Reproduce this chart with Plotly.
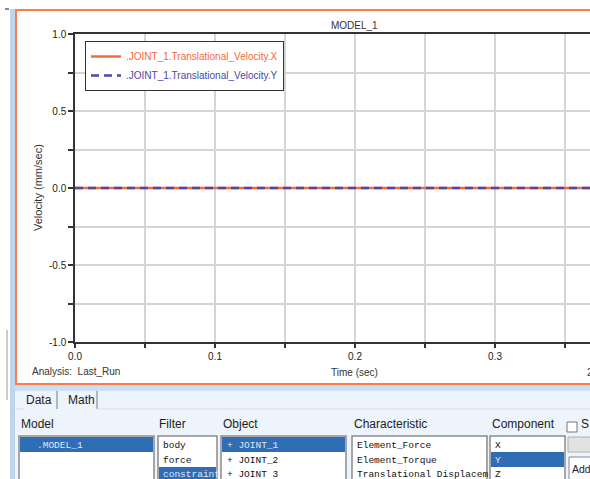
import plotly.graph_objects as go

# ---------------- data ----------------
time_s = [0.0, 0.05, 0.10, 0.15, 0.20, 0.25, 0.30, 0.35, 0.40]
vel_x = [0.0, 0.0, 0.0, 0.0, 0.0, 0.0, 0.0, 0.0, 0.0]
vel_y = [0.0, 0.0, 0.0, 0.0, 0.0, 0.0, 0.0, 0.0, 0.0]
series_names = [".JOINT_1.Translational_Velocity.X", ".JOINT_1.Translational_Velocity.Y"]
x_tickvals = [0.0, 0.05, 0.10, 0.15, 0.20, 0.25, 0.30, 0.35]
x_ticktext = ["0.0", "", "0.1", "", "0.2", "", "0.3", ""]
y_tickvals = [-1.0, -0.75, -0.5, -0.25, 0.0, 0.25, 0.5, 0.75, 1.0]
y_ticktext = ["-1.0", "", "-0.5", "", "0.0", "", "0.5", "", "1.0"]

W, H = 590, 479
def px(x): return x / W
def py(y): return 1 - y / H

ORANGE = "#f4683a"
BLUE = "#4a48a8"
SANS = "Liberation Sans, Arial, sans-serif"
MONO = "Liberation Mono, Courier New, monospace"

fig = go.Figure()
fig.add_trace(go.Scatter(x=time_s, y=vel_x, mode="lines",
                         name=f'<span style="color:{ORANGE}">{series_names[0]}</span>',
                         line=dict(color=ORANGE, width=2.5)))
fig.add_trace(go.Scatter(x=time_s, y=vel_y, mode="lines",
                         name=f'<span style="color:{BLUE}">{series_names[1]}</span>',
                         line=dict(color=BLUE, width=2.5, dash="8px,5px")))

shapes = []
annots = []

def rect(x0, y0, x1, y1, fill=None, line=None, lw=1):
    shapes.append(dict(type="rect", xref="paper", yref="paper",
                       x0=px(x0), x1=px(x1), y0=py(y1), y1=py(y0),
                       fillcolor=fill if fill else "rgba(0,0,0,0)",
                       line=dict(color=line if line else "rgba(0,0,0,0)", width=lw if line else 0),
                       layer="above"))

def hline(x0, x1, y, color, lw=1):
    shapes.append(dict(type="line", xref="paper", yref="paper",
                       x0=px(x0), x1=px(x1), y0=py(y), y1=py(y),
                       line=dict(color=color, width=lw)))

def vline(x, y0, y1, color, lw=1):
    shapes.append(dict(type="line", xref="paper", yref="paper",
                       x0=px(x), x1=px(x), y0=py(y0), y1=py(y1),
                       line=dict(color=color, width=lw)))

def text(x, y, s, size=12, color="#222", font=SANS, anchor="left", angle=0):
    annots.append(dict(xref="paper", yref="paper", x=px(x), y=py(y), text=s,
                       showarrow=False, xanchor=anchor, yanchor="middle",
                       textangle=angle, font=dict(family=font, size=size, color=color)))

# window chrome
rect(10, 9, 15, 479, fill="#bcd6ee")
rect(5, 8, 9, 10, fill="#888888")
vline(7, 330, 400, "#9a9a9a", 1)
rect(16, 10, 594, 384, line="#ff7b4c", lw=2)
rect(15, 385, 592, 391, fill="#cbdff2")
rect(15, 391, 592, 481, fill="#edf4fb")
vline(57, 391, 409, "#7a7a7a", 1)
vline(97, 391, 409, "#7a7a7a", 1)
hline(97, 592, 409, "#d6e2ee", 1)
hline(15, 25, 409, "#d6e2ee", 1)

# chart texts
text(355, 25, "MODEL_1", size=10, color="#333", anchor="center")
text(38, 188, "Velocity (mm/sec)", size=11, color="#333", anchor="center", angle=-90)
text(355, 372, "Time (sec)", size=10, color="#333", anchor="center")
text(30, 371, "Analysis:  Last_Run", size=10, color="#333")
text(585, 372, "2", size=10, color="#333")

# panel texts
text(24, 400, "Data", size=12)
text(66, 400, "Math", size=12)
text(19, 424, "Model", size=12)
text(157, 424, "Filter", size=12)
text(221, 424, "Object", size=12)
text(352, 424, "Characteristic", size=12)
text(490, 424, "Component", size=12)
rect(567, 422, 577, 432, fill="white", line="#777", lw=1)
text(579, 424, "S", size=12)

SEL = "#2f6db5"
LS = 9.5
rect(19, 436, 154, 482, fill="white", line="#8a8a8a", lw=1.5)
rect(20, 437, 153, 452, fill=SEL)
text(35, 445, ".MODEL_1", size=LS, color="#dfe8f7", font=MONO)

rect(158, 436, 217, 482, fill="white", line="#8a8a8a", lw=1.5)
rect(159, 467, 216, 482, fill=SEL)
text(161, 445, "body", size=LS, color="#111", font=MONO)
text(161, 460, "force", size=LS, color="#111", font=MONO)
text(161, 474, "constraint", size=LS, color="#dfe8f7", font=MONO)

rect(221, 436, 346, 482, fill="white", line="#8a8a8a", lw=1.5)
rect(222, 437, 345, 452, fill=SEL)
text(225, 445, "+ JOINT_1", size=LS, color="#dfe8f7", font=MONO)
text(225, 460, "+ JOINT_2", size=LS, color="#111", font=MONO)
text(225, 474, "+ JOINT 3", size=LS, color="#111", font=MONO)

rect(352, 436, 487, 482, fill="white", line="#8a8a8a", lw=1.5)
text(355, 445, "Element_Force", size=LS, color="#111", font=MONO)
text(355, 460, "Element_Torque", size=LS, color="#111", font=MONO)
text(355, 474, "Translational Displacem", size=LS, color="#111", font=MONO)

rect(490, 436, 565, 482, fill="white", line="#8a8a8a", lw=1.5)
rect(491, 452, 564, 467, fill=SEL)
text(493, 445, "X", size=LS, color="#111", font=MONO)
text(493, 460, "Y", size=LS, color="#dfe8f7", font=MONO)
text(493, 474, "Z", size=LS, color="#111", font=MONO)

rect(568, 437, 596, 452, fill="#e2e2e2", line="#b0b0b0", lw=1)
rect(569, 457, 596, 482, fill="white", line="#888", lw=1)
text(570, 469, "Add", size=10.5)

fig.update_layout(
    width=W, height=H,
    margin=dict(l=0, r=0, t=0, b=0),
    paper_bgcolor="white", plot_bgcolor="white",
    shapes=shapes, annotations=annots,
    showlegend=True,
    legend=dict(x=px(85), y=py(41), xanchor="left", yanchor="top",
                bgcolor="white", bordercolor="#333", borderwidth=1,
                font=dict(family=SANS, size=10), tracegroupgap=0, itemwidth=30),
    xaxis=dict(domain=[px(75), 1.0], range=[0.0, (W - 75) / 1400],
               tickmode="array", tickvals=x_tickvals, ticktext=x_ticktext,
               ticks="outside", ticklen=4, tickcolor="#333", tickwidth=1.5,
               showline=True, linecolor="#333", linewidth=1.5, mirror=True,
               showgrid=True, gridcolor="#d4d4d4", gridwidth=1.5,
               zeroline=False, automargin=False,
               tickfont=dict(family=SANS, size=10, color="#222")),
    yaxis=dict(domain=[py(342), py(34)], range=[-1.0, 1.0],
               tickmode="array", tickvals=y_tickvals, ticktext=y_ticktext,
               ticks="outside", ticklen=5, tickcolor="#333", tickwidth=1.5,
               showline=True, linecolor="#333", linewidth=1.5, mirror=False,
               showgrid=True, gridcolor="#d4d4d4", gridwidth=1.5,
               zeroline=False, automargin=False,
               tickfont=dict(family=SANS, size=10, color="#222")),
)

fig.write_html("out.html", config={"displayModeBar": False},
               post_script="document.body.style.margin='0';document.body.style.overflow='hidden';")
